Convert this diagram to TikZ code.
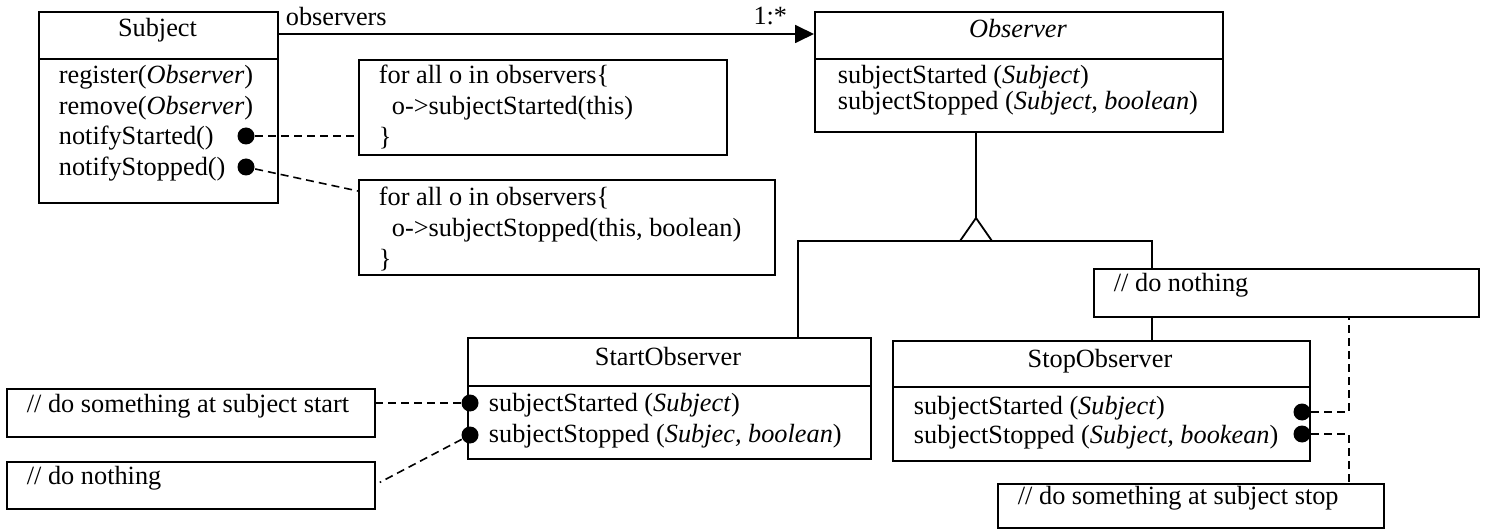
\documentclass[tikz,border=0pt]{standalone}
\usepackage{fontspec}
\setmainfont{Liberation Serif}
\usetikzlibrary{arrows.meta}
\begin{document}
\begin{tikzpicture}[x=1pt,y=-1pt,
  font=\fontsize{26.3}{30}\selectfont,
  line width=1.8pt,
  umlbox/.style={draw, fill=white, inner sep=0, anchor=north west},
  txt/.style={anchor=west, inner sep=0, text height=18pt, text depth=6pt},
  ttl/.style={anchor=center, inner sep=0, text height=18pt, text depth=6pt},
  joint/.style={circle, fill=black, draw=none, inner sep=0, minimum size=17pt},
  notelink/.style={line width=1.6pt, dash pattern=on 8pt off 5pt},
  divider/.style={line width=1.8pt}
]
\useasboundingbox (0,0) rectangle (1486,529);

% ---------- class boxes ----------
\node[umlbox, minimum width=239pt, minimum height=191pt] (subject) at (38,11) {};
\draw[divider] ([yshift=-48pt]subject.north west) -- ([yshift=-48pt]subject.north east);
\node[umlbox, minimum width=408pt, minimum height=120pt] (observer) at (814,11) {};
\draw[divider] ([yshift=-48pt]observer.north west) -- ([yshift=-48pt]observer.north east);
\node[umlbox, minimum width=403pt, minimum height=121pt] (startobs) at (467,337) {};
\draw[divider] ([yshift=-49pt]startobs.north west) -- ([yshift=-49pt]startobs.north east);
\node[umlbox, minimum width=417pt, minimum height=120pt] (stopobs) at (892,340) {};
\draw[divider] ([yshift=-47pt]stopobs.north west) -- ([yshift=-47pt]stopobs.north east);

% ---------- association Subject -> Observer ----------
\coordinate (assoc) at (277,34);
\draw[-{Triangle[length=19pt,width=18pt]}] (assoc) -- (assoc -| observer.west);
\node[txt] (lblobs) at (285,20) {observers};
\node[txt, anchor=east] (lblmult) at (788,19) {1:*};

% ---------- generalization ----------
\coordinate (apex) at (976,218);
\coordinate (hl) at (798,241);
\coordinate (hr) at (1152,241);
\draw (apex |- observer.south) -- (apex);
\draw[line join=miter] (apex) -- ++(-16,23) -- ++(32,0) -- cycle;
\draw (startobs.north -| hl) -- (hl) -- (hr) -- (stopobs.north -| hr);

% ---------- notes ----------
\node[umlbox, minimum width=368pt, minimum height=95pt] (note1) at (358,59) {};
\node[umlbox, minimum width=416pt, minimum height=95pt] (note2) at (358,179) {};
\node[umlbox, minimum width=385pt, minimum height=48pt] (dnR) at (1093,268) {};
\node[umlbox, minimum width=386pt, minimum height=44pt] (stopnote) at (997,483) {};
\node[umlbox, minimum width=368pt, minimum height=48pt] (noteA) at (6,388) {};
\node[umlbox, minimum width=368pt, minimum height=47pt] (noteB) at (6,461) {};

% ---------- texts ----------
\node[ttl] (tsub) at (157.5,31) {Subject};
\node[txt] (s1) at (58,78) {register(\textit{Observer})};
\node[txt] (s2) at (58,108.5) {remove(\textit{Observer})};
\node[txt] (s3) at (58,139) {notifyStarted()};
\node[txt] (s4) at (58,170) {notifyStopped()};

\node[ttl] (tobs) at (1018,32) {\textit{Observer}};
\node[txt] (o1) at (837,78) {subjectStarted (\textit{Subject})};
\node[txt] (o2) at (837,103.5) {subjectStopped (\textit{Subject, boolean})};

\node[ttl] (tstart) at (668,359) {StartObserver};
\node[txt] (a1) at (488,405) {subjectStarted (\textit{Subject})};
\node[txt] (a2) at (488,436) {subjectStopped (\textit{Subjec, boolean})};

\node[ttl] (tstop) at (1100,361) {StopObserver};
\node[txt] (b1) at (913,408) {subjectStarted (\textit{Subject})};
\node[txt] (b2) at (913,437) {subjectStopped (\textit{Subject, bookean})};

\node[txt] (n1a) at (378,78) {for all o in observers\{};
\node[txt] (n1b) at (378,109) {\hspace*{13pt}o->subjectStarted(this)};
\node[txt] (n1c) at (378,140) {\}};
\node[txt] (n2a) at (378,200) {for all o in observers\{};
\node[txt] (n2b) at (378,231) {\hspace*{13pt}o->subjectStopped(this, boolean)};
\node[txt] (n2c) at (378,262) {\}};
\node[txt] (dnRt) at (1113,286) {// do nothing};
\node[txt] (stopt) at (1017,498) {// do something at subject stop};
\node[txt] (At) at (26,406) {// do something at subject start};
\node[txt] (Bt) at (26,478) {// do nothing};

% ---------- attachment points ----------
\node[joint] (sd1) at (246,136) {};
\node[joint] (sd2) at (246,167) {};
\node[joint] (ad1) at (470,403) {};
\node[joint] (ad2) at (470,435) {};
\node[joint] (bd1) at (1302,412) {};
\node[joint] (bd2) at (1302,434) {};

% ---------- note links ----------
\coordinate (n2in) at (358,191);
\coordinate (bend1) at (1349,412);
\coordinate (bend2) at (1349,434);
\draw[notelink] (sd1) -- (sd1 -| note1.west);
\draw[notelink] (sd2) -- (n2in);
\draw[notelink] (ad1) -- (ad1 -| noteA.east);
\draw[notelink] (ad2) -- ([xshift=4pt,yshift=3pt]noteB.east);
\draw[notelink] (bd1) -- (bend1) -- (bend1 |- dnR.south);
\draw[notelink] (bd2) -- (bend2) -- (bend2 |- stopnote.north);
\end{tikzpicture}
\end{document}
